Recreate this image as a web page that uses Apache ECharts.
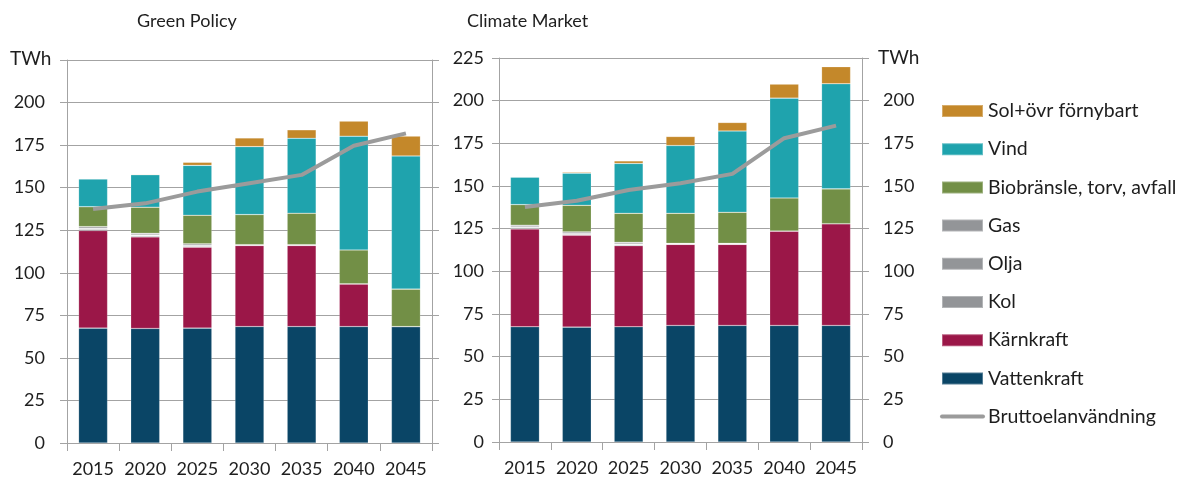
<!DOCTYPE html>
<html>
<head>
<meta charset="utf-8">
<script src="https://cdn.jsdelivr.net/npm/echarts@6/dist/echarts.min.js"></script>
<style>html,body{margin:0;padding:0;background:#fff}#c{width:1180px;height:479px}</style>
</head>
<body>
<div id="c"></div>
<script>
var years = ['2015','2020','2025','2030','2035','2040','2045'];
var yTicks = [0,25,50,75,100,125,150,175,200,225];
var unitLabel = 'TWh';
var titles = ['Green Policy','Climate Market'];

// Green Policy (TWh)
var gpVatten = [67.5, 67.3, 67.5, 68.4, 68.4, 68.4, 68.4];
var gpKarn   = [57.3, 53.8, 47.5, 47.6, 47.6, 25.1, 0];
var gpKol    = [0.8, 0.7, 0.6, 0.2, 0.2, 0, 0];
var gpOlja   = [0.5, 0.4, 0.4, 0.1, 0.1, 0, 0];
var gpGas    = [1.0, 1.0, 1.0, 0.2, 0.2, 0, 0];
var gpBio    = [11.7, 15.3, 16.8, 17.7, 18.5, 19.9, 22.0];
var gpVind   = [16.3, 19.1, 29.3, 39.9, 44.0, 66.8, 78.2];
var gpSol    = [0.3, 0.4, 1.8, 5.1, 5.0, 8.9, 11.7];
var gpBrutto = [137.5, 140.8, 147.7, 152.6, 157.5, 174.6, 181.9];

// Climate Market (TWh)
var cmVatten = [67.5, 67.3, 67.5, 68.3, 68.3, 68.3, 68.3];
var cmKarn   = [57.3, 53.8, 47.5, 47.5, 47.5, 55.3, 59.6];
var cmKol    = [0.7, 0.6, 0.6, 0.2, 0.2, 0, 0];
var cmOlja   = [0.5, 0.4, 0.4, 0.1, 0.1, 0, 0];
var cmGas    = [1.0, 1.0, 1.0, 0.3, 0.3, 0, 0];
var cmBio    = [12.1, 15.6, 17.0, 17.6, 18.2, 19.4, 20.4];
var cmVind   = [16.1, 18.8, 29.2, 39.7, 47.6, 58.5, 61.6];
var cmSol    = [0, 0.6, 1.5, 5.3, 5.0, 8.2, 10.0];
var cmBrutto = [137.7, 141.4, 147.7, 151.6, 157.1, 178.0, 185.4];

var names = ['Vattenkraft','Kärnkraft','Kol','Olja','Gas','Biobränsle, torv, avfall','Vind','Sol+övr förnybart'];
var lineName = 'Bruttoelanvändning';
var colors = {
  'Vattenkraft':'#0A4566',
  'Kärnkraft':'#9B1748',
  'Kol':'#A3A4A6',
  'Olja':'#A3A4A6',
  'Gas':'#A3A4A6',
  'Biobränsle, torv, avfall':'#728F46',
  'Vind':'#1FA3AD',
  'Sol+övr förnybart':'#C4882A'
};
var legendGray = '#939598';
var gpData = [gpVatten, gpKarn, gpKol, gpOlja, gpGas, gpBio, gpVind, gpSol];
var cmData = [cmVatten, cmKarn, cmKol, cmOlja, cmGas, cmBio, cmVind, cmSol];

var FONT = 'Lato, "Open Sans", sans-serif';
var TXT = '#1e1e1e';
var GRID = '#a3a3a3';

function xAx(gi){
  return {
    type:'category', gridIndex:gi, data:years, boundaryGap:true,
    axisLine:{show:true, lineStyle:{color:GRID, width:1}},
    axisTick:{show:true, inside:false, length:8, interval:0, lineStyle:{color:GRID}},
    axisLabel:{color:TXT, fontSize:18, fontFamily:FONT, margin:17, interval:0, hideOverlap:false}
  };
}
function yAx(gi, pos, showLabel, split, hideTop){
  return {
    type:'value', gridIndex:gi, position:pos, min:0, max:225, interval:25,
    axisLine:{show:true, lineStyle:{color:GRID, width:1}},
    axisTick:{show:true, inside:false, length:7, lineStyle:{color:GRID}},
    splitLine:{show:split, lineStyle:{color:GRID, width:1}},
    axisLabel:{show:showLabel, color:TXT, fontSize:18, fontFamily:FONT,
      margin: pos==='left' ? (gi===0?22:15) : 21,
      formatter:function(v){ return (hideTop && v===225) ? '' : String(v); }}
  };
}

var series = [];
[gpData, cmData].forEach(function(dataSet, gi){
  names.forEach(function(n, i){
    series.push({
      name:n, type:'bar', stack:'s'+gi, xAxisIndex:gi, yAxisIndex:gi*2,
      barWidth:29, data:dataSet[i],
      itemStyle:{color:colors[n], borderColor:'rgba(255,255,255,0.3)', borderWidth:0.6},
      emphasis:{disabled:true}
    });
  });
  series.push({
    name:lineName, type:'line', xAxisIndex:gi, yAxisIndex:gi*2,
    data: gi===0 ? gpBrutto : cmBrutto, symbol:'none', showSymbol:false, z:5,
    lineStyle:{color:'#9B9B9B', width:4}, itemStyle:{color:'#9B9B9B'}
  });
});

var option = {
  animation:false,
  textStyle:{fontFamily:FONT},
  title:[
    {text:titles[0], left:132, top:7, textStyle:{fontSize:18, fontWeight:'normal', color:TXT, fontFamily:FONT}},
    {text:titles[1], left:462, top:7, textStyle:{fontSize:18, fontWeight:'normal', color:TXT, fontFamily:FONT}},
    {text:unitLabel, left:5, top:44, textStyle:{fontSize:19, fontWeight:'normal', color:TXT, fontFamily:FONT}},
    {text:unitLabel, left:873, top:43, textStyle:{fontSize:19, fontWeight:'normal', color:TXT, fontFamily:FONT}}
  ],
  grid:[
    {left:67, right:748, top:60, bottom:36},
    {left:499, right:318, top:58, bottom:37}
  ],
  xAxis:[xAx(0), xAx(1)],
  yAxis:[yAx(0,'left',true,true,true), yAx(0,'right',false,false,false),
         yAx(1,'left',true,true,false), yAx(1,'right',true,false,true)],
  legend:{
    orient:'vertical', left:940, top:100, padding:0, itemWidth:41, itemHeight:12, itemGap:16.2,
    textStyle:{fontSize:19.5, color:TXT, fontFamily:FONT, lineHeight:22, padding:[0,0,0,0]},
    selectedMode:false,
    data:[
      {name:'Sol+övr förnybart', icon:'rect'},
      {name:'Vind', icon:'rect'},
      {name:'Biobränsle, torv, avfall', icon:'rect'},
      {name:'Gas', icon:'rect', itemStyle:{color:legendGray}},
      {name:'Olja', icon:'rect', itemStyle:{color:legendGray}},
      {name:'Kol', icon:'rect', itemStyle:{color:legendGray}},
      {name:'Kärnkraft', icon:'rect'},
      {name:'Vattenkraft', icon:'rect'},
      {name:lineName, itemStyle:{opacity:0}, lineStyle:{width:4, color:'#9B9B9B', cap:'round'}}
    ]
  },
  series:series
};
echarts.init(document.getElementById('c')).setOption(option);
</script>
</body>
</html>
